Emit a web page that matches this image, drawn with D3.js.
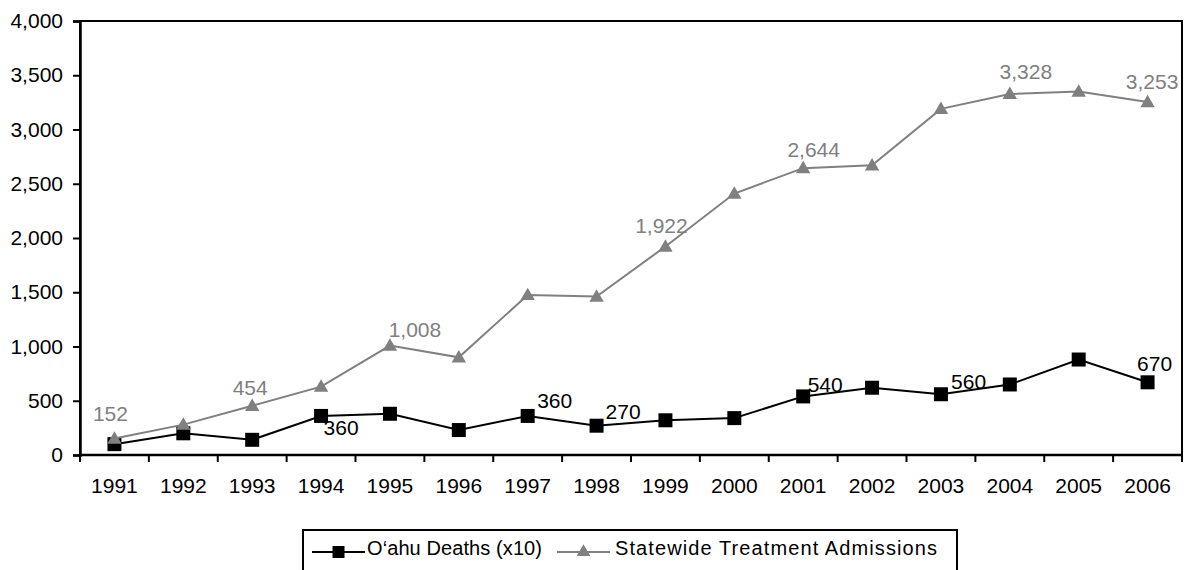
<!DOCTYPE html>
<html>
<head>
<meta charset="utf-8">
<script src="https://cdn.jsdelivr.net/npm/d3@7"></script>
<style>
  html, body { margin: 0; padding: 0; background: #fff; }
  svg { display: block; font-family: "Liberation Sans", Arial, sans-serif; }
</style>
</head>
<body>
<svg id="chart" width="1186" height="570"></svg>
<script>
// Years on the category axis
const years = ["1991","1992","1993","1994","1995","1996","1997","1998",
               "1999","2000","2001","2002","2003","2004","2005","2006"];
// O‘ahu deaths, multiplied by 10
const oahuDeaths = [100, 200, 140, 360, 380, 230, 360, 270, 320, 340, 540, 620, 560, 650, 880, 670];
// Statewide treatment admissions
const statewideAdmissions = [152, 280, 454, 630, 1008, 900, 1475, 1460, 1922, 2410, 2644, 2670, 3190, 3328, 3350, 3253];
// Value axis ticks
const yTicks = [0, 500, 1000, 1500, 2000, 2500, 3000, 3500, 4000];
// Which points carry a value label
const oahuLabelYears = ["1994","1997","1998","2001","2003","2006"];
const statewideLabelYears = ["1991","1993","1995","1999","2001","2004","2006"];

const seriesNames = ["O\u2018ahu Deaths (x10)", "Statewide Treatment Admissions"];

// Label nudges (px) relative to each marker, placed by hand around the lines
const oahuLabelNudge = {
  "1994": [20, 19], "1997": [27, -7.6], "1998": [26.5, -6.4],
  "2001": [22, -4.7], "2003": [27.7, -4.9], "2006": [7, -11.6]
};
const statewideLabelNudge = {
  "1991": [-4, -18], "1993": [-2, -10.7], "1995": [25, -8.3], "1999": [-4, -13.8],
  "2001": [10.5, -10.8], "2004": [16, -14.6], "2006": [4.5, -12.7]
};

const GRAY = "#808080";
const FONT = 21;

const svg = d3.select("#chart");
const plot = { left: 80, top: 21, right: 1182, bottom: 455 };

const x = d3.scaleBand().domain(years).range([plot.left, plot.right]);
const y = d3.scaleLinear().domain([0, 4000]).range([plot.bottom, plot.top]);
const cx = yr => x(yr) + x.bandwidth() / 2;
const fmt = d3.format(",");

// Plot area frame
svg.append("rect")
  .attr("x", plot.left).attr("y", plot.top)
  .attr("width", plot.right - plot.left).attr("height", plot.bottom - plot.top)
  .attr("fill", "none").attr("stroke", "#000").attr("stroke-width", 2);

// Value axis
const yAxis = svg.append("g")
  .attr("transform", `translate(${plot.left},0)`)
  .call(d3.axisLeft(y).tickValues(yTicks).tickFormat(fmt).tickSize(7).tickPadding(10));
yAxis.select(".domain").attr("stroke-width", 2.5);
yAxis.selectAll(".tick line").attr("stroke-width", 2);
yAxis.selectAll("text").attr("font-size", FONT).attr("font-family", "Liberation Sans, Arial, sans-serif").attr("fill", "#000");

// Category axis: labels centred in each band, ticks on band boundaries
const xAxis = svg.append("g")
  .attr("transform", `translate(0,${plot.bottom})`)
  .call(d3.axisBottom(x).tickSize(0).tickPadding(23));
xAxis.select(".domain").remove();
xAxis.selectAll("text").attr("font-size", FONT).attr("font-family", "Liberation Sans, Arial, sans-serif").attr("fill", "#000");

svg.append("line")
  .attr("x1", plot.left).attr("x2", plot.right)
  .attr("y1", plot.bottom).attr("y2", plot.bottom)
  .attr("stroke", "#000").attr("stroke-width", 2.5);

const boundaries = years.map(yr => x(yr)).concat([x(years[years.length - 1]) + x.step()]);
svg.append("g").selectAll("line").data(boundaries).join("line")
  .attr("x1", d => d).attr("x2", d => d)
  .attr("y1", plot.bottom).attr("y2", plot.bottom + 7)
  .attr("stroke", "#000").attr("stroke-width", 2);

// Series
const line = d3.line().x(d => cx(d.year)).y(d => y(d.value));
const oahu = years.map((yr, i) => ({ year: yr, value: oahuDeaths[i] }));
const statewide = years.map((yr, i) => ({ year: yr, value: statewideAdmissions[i] }));

const squareSym = d3.symbol(d3.symbolSquare, 196);
const triSym = d3.symbol(d3.symbolTriangle, 90);

svg.append("path").datum(oahu)
  .attr("d", line).attr("fill", "none").attr("stroke", "#000").attr("stroke-width", 2);
svg.append("g").selectAll("path").data(oahu).join("path")
  .attr("d", squareSym)
  .attr("transform", d => `translate(${cx(d.year)},${y(d.value)})`)
  .attr("fill", "#000");

svg.append("path").datum(statewide)
  .attr("d", line).attr("fill", "none").attr("stroke", GRAY).attr("stroke-width", 2);
svg.append("g").selectAll("path").data(statewide).join("path")
  .attr("d", triSym)
  .attr("transform", d => `translate(${cx(d.year)},${y(d.value) + 1})`)
  .attr("fill", GRAY);

// Value labels
svg.append("g").selectAll("text")
  .data(oahu.filter(d => oahuLabelYears.includes(d.year))).join("text")
  .attr("x", d => cx(d.year) + oahuLabelNudge[d.year][0])
  .attr("y", d => y(d.value) + oahuLabelNudge[d.year][1])
  .attr("text-anchor", "middle").attr("font-size", FONT).attr("fill", "#000")
  .text(d => fmt(d.value));

svg.append("g").selectAll("text")
  .data(statewide.filter(d => statewideLabelYears.includes(d.year))).join("text")
  .attr("x", d => cx(d.year) + statewideLabelNudge[d.year][0])
  .attr("y", d => y(d.value) + statewideLabelNudge[d.year][1])
  .attr("text-anchor", "middle").attr("font-size", FONT).attr("fill", GRAY)
  .text(d => fmt(d.value));

// Legend
const legend = svg.append("g");
legend.append("rect")
  .attr("x", 303).attr("y", 530).attr("width", 654).attr("height", 60)
  .attr("fill", "#fff").attr("stroke", "#000").attr("stroke-width", 2);

const legendItems = [
  { name: seriesNames[0], color: "#000", sym: d3.symbol(d3.symbolSquare, 144), x0: 312, tx: 367, len: 175 },
  { name: seriesNames[1], color: GRAY, sym: d3.symbol(d3.symbolTriangle, 80), x0: 557, tx: 615, len: 322 }
];
legendItems.forEach(it => {
  legend.append("line")
    .attr("x1", it.x0).attr("x2", it.x0 + 53)
    .attr("y1", 552).attr("y2", 552)
    .attr("stroke", it.color).attr("stroke-width", 2);
  legend.append("path")
    .attr("d", it.sym)
    .attr("transform", `translate(${it.x0 + 26.5},552)`)
    .attr("fill", it.color);
  legend.append("text")
    .attr("x", it.tx).attr("y", 555)
    .attr("font-size", 20).attr("fill", "#000")
    .attr("textLength", it.len).attr("lengthAdjust", "spacing")
    .text(it.name);
});
</script>
</body>
</html>
